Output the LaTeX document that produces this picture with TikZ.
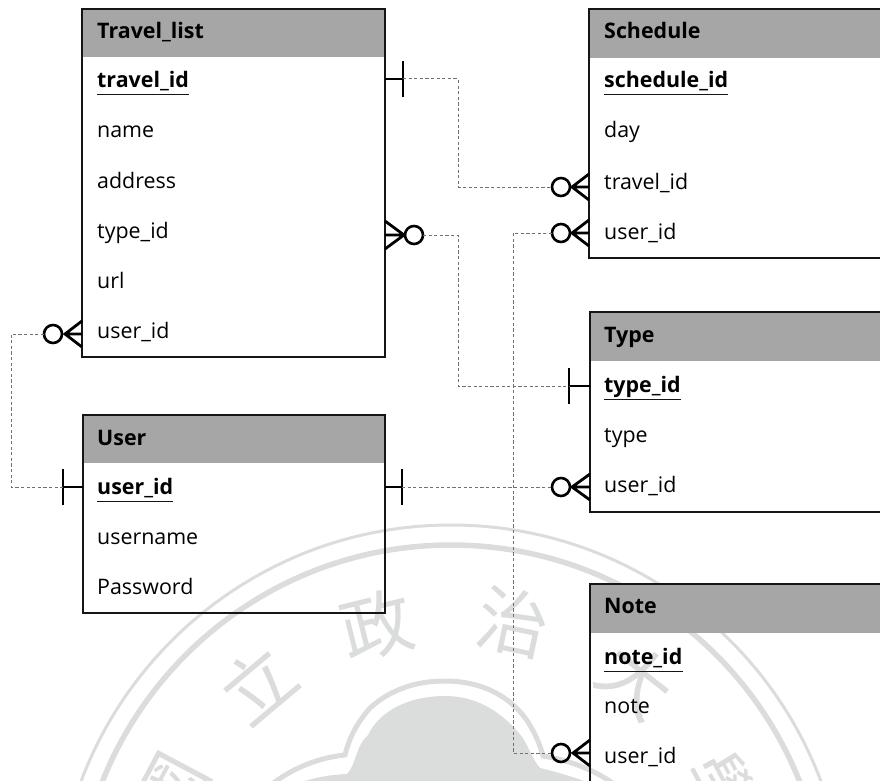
\documentclass[tikz,border=0pt]{standalone}
\usepackage{fontspec}
\setmainfont{Open Sans}
\newfontfamily\cjk{Noto Sans CJK TC}
\definecolor{wm}{HTML}{DBDCDC}
\definecolor{hdr}{HTML}{A6A6A6}
\definecolor{ink}{HTML}{151515}
\definecolor{dash}{HTML}{707070}
\tikzset{
  entity/.style={draw=ink,line width=1.8pt,anchor=north west,inner sep=0pt,outer sep=0pt},
  headfill/.style={fill=hdr,anchor=north west,inner sep=0pt,outer sep=0pt},
  headtext/.style={anchor=base west,inner sep=0pt,font=\fontsize{21.4}{25}\selectfont\bfseries,text=black},
  rowtext/.style={anchor=base west,inner sep=0pt,font=\fontsize{21.4}{25}\selectfont,text=black},
  keytext/.style={rowtext,font=\fontsize{21.4}{25}\selectfont\bfseries},
  keyline/.style={draw=ink,line width=1pt},
  rel/.style={draw=dash,line width=1pt,dash pattern=on 3.2pt off 2.4pt},
  sym/.style={draw=black,line width=2.8pt},
  crowo/.style={circle,draw=black,line width=2.6pt,minimum size=18pt,inner sep=0pt,outer sep=0pt},
  wmarc/.style={draw=wm},
  wmchar/.style={text=wm,inner sep=0pt,font=\cjk\fontsize{72}{72}\selectfont},
}
% many-end: #1 name, #2 edge x, #3 y, #4 crow apex x, #5 circle x, #6 half spread
\newcommand{\manyend}[6]{%
  \coordinate (#1edge) at (#2,#3);
  \coordinate (#1apex) at (#4,#3);
  \node[crowo] (#1) at (#5,#3) {};
  \draw[sym] (#1edge) -- (#1apex) (#2,#3-#6) -- (#1apex) -- (#2,#3+#6);
}
% one-end: #1 name, #2 edge x, #3 y, #4 bar x
\newcommand{\oneend}[4]{%
  \coordinate (#1edge) at (#2,#3);
  \coordinate (#1) at (#4,#3);
  \draw[sym] (#1edge) -- (#1) (#4,#3-18) -- (#4,#3+18);
}
% key row with underline
\newcommand{\keyrow}[4]{%
  \node[keytext] (#1) at (#2,#3) {#4};
  \draw[keyline] (#1.base west) ++(0,7) -- ([yshift=-7pt]#1.base east);
}
\begin{document}
\begin{tikzpicture}[x=1pt,y=-1pt]
\useasboundingbox (0,0) rectangle (880,781);
\clip (0,0) rectangle (880,781);
% watermark seal
\coordinate (sealc) at (451,920);
\draw[wmarc,line width=3pt] (sealc) circle[radius=395];
\draw[wmarc,line width=5.5pt] (sealc) circle[radius=375];
\node[wmchar,rotate=62] (w1) at (172,792) {國};
\node[wmchar,rotate=40] (w2) at (257,684) {立};
\node[wmchar,rotate=14] (w3) at (377,625) {政};
\node[wmchar,rotate=-12] (w4) at (513,622) {治};
\node[wmchar,rotate=-38] (w5) at (637,680) {大};
\node[wmchar,rotate=-62] (w6) at (722,790) {學};
\fill[wm] (273,800) .. controls (290,782) and (320,775) .. (347,774)
  .. controls (356,765) and (356,745) .. (368,735)
  .. controls (380,710) and (410,696) .. (445,696)
  .. controls (480,696) and (505,715) .. (523,738)
  .. controls (530,750) and (533,760) .. (540,768)
  .. controls (570,775) and (600,785) .. (620,800) -- cycle;
\draw[wmarc,line width=5pt] (255,800) .. controls (280,772) and (315,758) .. (345,755)
  .. controls (350,735) and (358,722) .. (370,708)
  .. controls (390,690) and (415,681) .. (445,681)
  .. controls (480,681) and (510,695) .. (528,722)
  .. controls (536,735) and (540,745) .. (543,756)
  .. controls (580,762) and (612,778) .. (632,800);
% Travel_list
\node[headfill,minimum width=303pt,minimum height=48pt] (tlH) at (82,9) {};
\node[entity,minimum width=303pt,minimum height=348pt] (tl) at (82,9) {};
\node[headtext] (tlT) at (97,39) {Travel\_list};
\keyrow{tlId}{97}{88}{travel\_id}
\node[rowtext] (tlName) at (97,138) {name};
\node[rowtext] (tlAddr) at (97,188) {address};
\node[rowtext] (tlType) at (97,238) {type\_id};
\node[rowtext] (tlUrl) at (97,288) {url};
\node[rowtext] (tlUser) at (97,338) {user\_id};
% Schedule
\node[headfill,minimum width=320pt,minimum height=49pt] (scH) at (589,9) {};
\node[entity,minimum width=320pt,minimum height=249pt] (sc) at (589,9) {};
\node[headtext] (scT) at (604,39) {Schedule};
\keyrow{scId}{604}{88}{schedule\_id}
\node[rowtext] (scDay) at (604,138) {day};
\node[rowtext] (scTravel) at (604,189) {travel\_id};
\node[rowtext] (scUser) at (604,239) {user\_id};
% Type
\node[headfill,minimum width=320pt,minimum height=49pt] (tyH) at (590,312) {};
\node[entity,minimum width=320pt,minimum height=200pt] (ty) at (590,312) {};
\node[headtext] (tyT) at (604,342) {Type};
\keyrow{tyId}{604}{392}{type\_id}
\node[rowtext] (tyType) at (604,442) {type};
\node[rowtext] (tyUser) at (604,492) {user\_id};
% User
\node[headfill,minimum width=302pt,minimum height=48pt] (usH) at (83,415) {};
\node[entity,minimum width=302pt,minimum height=198pt] (us) at (83,415) {};
\node[headtext] (usT) at (97,445) {User};
\keyrow{usId}{97}{494}{user\_id}
\node[rowtext] (usName) at (97,544) {username};
\node[rowtext] (usPass) at (97,594) {Password};
% Note
\node[headfill,minimum width=320pt,minimum height=49pt] (noH) at (590,584) {};
\node[entity,minimum width=320pt,minimum height=260pt] (no) at (590,584) {};
\node[headtext] (noT) at (604,613) {Note};
\keyrow{noId}{604}{664}{note\_id}
\node[rowtext] (noNote) at (604,713) {note};
\node[rowtext] (noUser) at (604,763) {user\_id};
% relationship ends
\oneend{a1}{385}{79}{403}
\manyend{a2}{589}{187}{572}{561}{13}
\manyend{b2}{589}{233}{572}{561}{13}
\manyend{b3}{590}{753}{573}{561}{13}
\manyend{c1}{385}{235}{404}{414}{14}
\oneend{c2}{590}{386}{569}
\oneend{d1}{385}{487}{402}
\manyend{d2}{590}{487}{572}{561}{13}
\manyend{e1}{82}{334}{65}{53}{13}
\oneend{e2}{83}{487}{63}
% relationship lines
\coordinate (a3) at (458,79);
\coordinate (a4) at (458,187);
\draw[rel] (a1) -- (a3) -- (a4) -- (a2);
\coordinate (b4) at (513,233);
\coordinate (b5) at (513,753);
\draw[rel] (b2) -- (b4) -- (b5) -- (b3);
\coordinate (c3) at (458,235);
\coordinate (c4) at (458,386);
\draw[rel] (c1) -- (c3) -- (c4) -- (c2);
\draw[rel] (d1) -- (d2);
\coordinate (e3) at (11,334);
\coordinate (e4) at (11,487);
\draw[rel] (e1) -- (e3) -- (e4) -- (e2);
\end{tikzpicture}
\end{document}
